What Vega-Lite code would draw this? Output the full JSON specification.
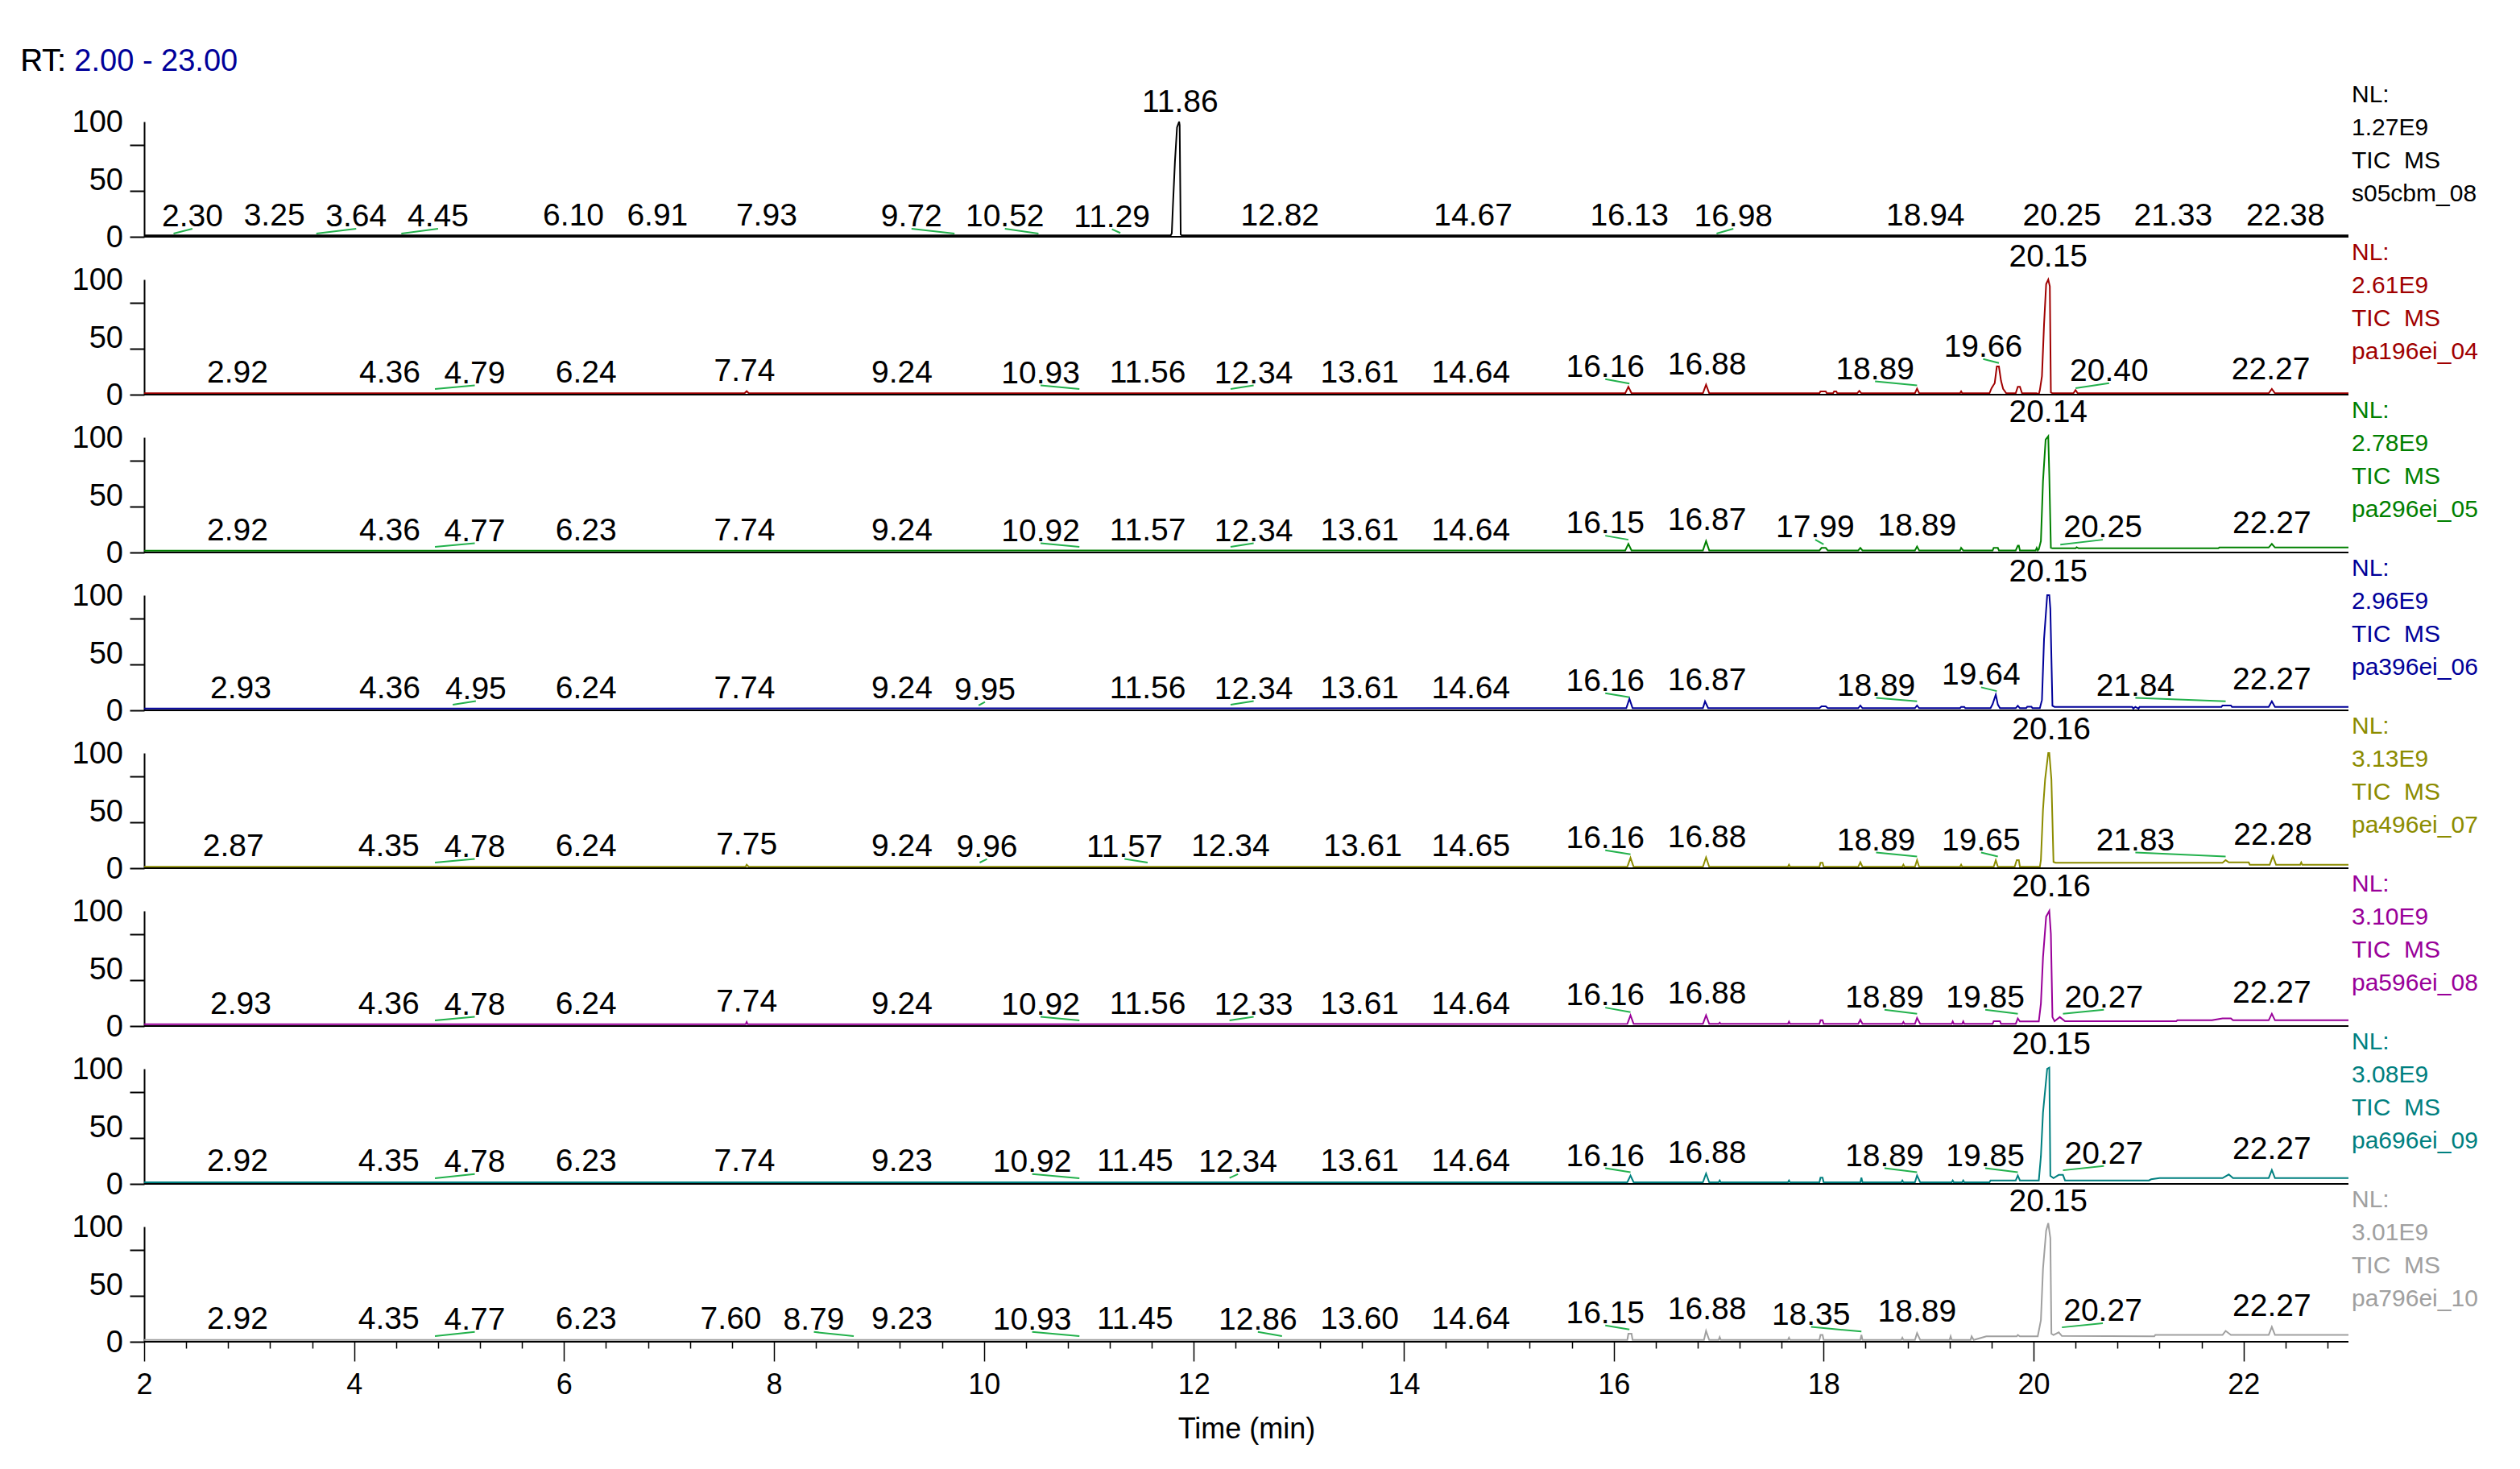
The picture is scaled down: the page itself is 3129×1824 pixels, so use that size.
{
"$schema": "https://vega.github.io/schema/vega-lite/v6.json",
"background": "white",
"padding": {"left": 25, "top": 58, "right": 10, "bottom": 10},
"title": {"text": "RT: 2.00 - 23.00", "subtitle": "RT:", "anchor": "start", "frame": "group", "dx": -153.5, "fontSize": 38, "subtitleFontSize": 38, "font": "Liberation Sans", "subtitleFont": "Liberation Sans", "fontWeight": "normal", "subtitleFontWeight": "normal", "color": "#000099", "subtitleColor": "#000000", "subtitlePadding": -38, "offset": 7},
"data": {"values": [
{"p":1,"k":"yl","yv":[0,50,100]},
{"p":2,"k":"yl","yv":[0,50,100]},
{"p":3,"k":"yl","yv":[0,50,100]},
{"p":4,"k":"yl","yv":[0,50,100]},
{"p":5,"k":"yl","yv":[0,50,100]},
{"p":6,"k":"yl","yv":[0,50,100]},
{"p":7,"k":"yl","yv":[0,50,100]},
{"p":8,"k":"yl","yv":[0,50,100]},
{"p":1,"k":"nl","lines":["NL:","1.27E9","TIC\u00a0\u00a0MS","s05cbm_08"]},
{"p":2,"k":"nl","lines":["NL:","2.61E9","TIC\u00a0\u00a0MS","pa196ei_04"]},
{"p":3,"k":"nl","lines":["NL:","2.78E9","TIC\u00a0\u00a0MS","pa296ei_05"]},
{"p":4,"k":"nl","lines":["NL:","2.96E9","TIC\u00a0\u00a0MS","pa396ei_06"]},
{"p":5,"k":"nl","lines":["NL:","3.13E9","TIC\u00a0\u00a0MS","pa496ei_07"]},
{"p":6,"k":"nl","lines":["NL:","3.10E9","TIC\u00a0\u00a0MS","pa596ei_08"]},
{"p":7,"k":"nl","lines":["NL:","3.08E9","TIC\u00a0\u00a0MS","pa696ei_09"]},
{"p":8,"k":"nl","lines":["NL:","3.01E9","TIC\u00a0\u00a0MS","pa796ei_10"]},
{"p":1,"k":"tr","t":[2,11.78,11.79,11.8,11.82,11.84,11.86,11.865,11.875,11.885,23],"v":[1.2,1.2,3,25,65,95,100,97,2,1.2,1.2]},
{"p":2,"k":"tr","t":[2,7.72,7.74,7.76,16.11,16.14,16.17,16.85,16.88,16.91,17.96,17.97,18.02,18.03,18.09,18.1,18.12,18.13,18.32,18.34,18.36,18.87,18.89,18.91,19.3,19.31,19.32,19.58,19.6,19.63,19.65,19.67,19.69,19.71,19.74,19.83,19.85,19.87,19.89,20.03,20.05,20.06,20.08,20.1,20.12,20.14,20.155,20.165,20.18,20.38,20.4,20.42,22.24,22.27,22.3,23],"v":[1.2,1.2,3,1.2,1.2,6.8,1.2,1.2,8.7,1.2,1.2,2.8,2.8,1.2,1.2,2.8,2.8,1.2,1.2,3.3,1.2,1.2,5.2,1.2,1.2,2.8,1.2,1.2,5.6,10,24.4,24.4,12,5,1.2,1.2,6.8,6.8,1.2,1.2,0.3,4,16,61,96,100,94,2,1.2,1.2,4,1.2,1.2,5,1.2,1.2]},
{"p":3,"k":"tr","t":[2,16.11,16.14,16.17,16.85,16.88,16.91,17.96,17.98,18.02,18.04,18.33,18.35,18.37,18.87,18.89,18.91,19.3,19.31,19.33,19.61,19.62,19.66,19.67,19.83,19.85,19.86,19.87,20.02,20.03,20.04,20.05,20.07,20.09,20.115,20.14,20.15,20.165,20.18,20.4,20.41,20.43,21.76,21.77,22.24,22.27,22.3,23],"v":[1.5,1.8,7.5,1.8,1.8,9.9,1.8,1.8,4,4,1.8,1.8,4,1.8,1.8,5.2,1.8,1.8,4,1.8,1.8,4,4,1.8,1.8,5.9,5.9,1.8,1.8,4,1.8,2.8,9.9,62,98,101,67,4,3.6,3.6,4.5,3.6,3.6,4.3,4.3,7.5,4.3,4.3]},
{"p":4,"k":"tr","t":[2,16.12,16.15,16.18,16.85,16.87,16.9,17.96,17.98,18.02,18.04,18.33,18.35,18.37,18.87,18.89,18.91,19.3,19.31,19.34,19.35,19.59,19.61,19.64,19.66,19.68,19.83,19.85,19.87,19.93,19.94,19.98,19.99,20.06,20.08,20.1,20.13,20.15,20.16,20.18,20.2,20.94,20.95,20.97,21,21.01,21.79,21.8,21.88,21.89,22.24,22.27,22.3,23],"v":[1.5,1.9,10,1.9,1.9,7.8,1.9,1.9,3.5,3.5,1.9,1.9,4.2,1.9,1.9,4.2,1.9,1.9,3,3,1.9,1.9,5.4,13.6,5,1.9,1.9,4,1.9,1.9,3.2,3.2,1.9,1.9,9,62,100,100,88,4,3,3,1.5,3,1.5,3,3,4.2,4.2,3,3,7.8,3,3]},
{"p":5,"k":"tr","t":[2,7.73,7.74,7.76,16.13,16.16,16.19,16.85,16.88,16.91,17.66,17.67,17.68,17.96,17.97,17.99,18,18.33,18.35,18.37,18.75,18.76,18.77,18.87,18.89,18.91,19.3,19.31,19.32,19.62,19.64,19.66,19.82,19.84,19.86,19.87,20.06,20.07,20.09,20.11,20.14,20.15,20.17,20.19,20.21,21.8,21.83,21.86,22.05,22.06,22.25,22.28,22.31,22.54,22.55,22.56,23],"v":[1.2,1.2,3,1.2,1.2,9,1.2,1.2,9.4,1.2,1.2,3,1.2,1.2,4.7,4.7,1.2,1.2,5.2,1.2,1.2,3,1.2,1.2,7,1.2,1.2,3,1.2,1.2,7,1.2,1.2,7,7,1.2,1.2,7,51,77,100,100,77,5.4,4.7,4.7,7,5,5,3,3,10.6,3,3,5,3,3]},
{"p":6,"k":"tr","t":[2,7.73,7.74,7.75,16.13,16.16,16.19,16.85,16.88,16.91,17,17.01,17.02,17.66,17.67,17.68,17.96,17.97,17.99,18,18.33,18.35,18.37,18.75,18.76,18.77,18.87,18.89,18.92,19.22,19.23,19.24,19.32,19.33,19.34,19.61,19.62,19.68,19.69,19.83,19.85,19.87,20.05,20.07,20.09,20.12,20.15,20.165,20.18,20.2,20.25,20.3,21.36,21.37,21.7,21.8,21.88,21.9,22.24,22.27,22.3,23],"v":[1.5,1.5,3.5,1.5,1.9,9.4,1.9,1.9,9.4,1.9,1.9,3,1.9,1.9,3.8,1.9,1.9,5,5,1.9,1.9,5.4,1.9,1.9,3.5,1.9,1.9,7,1.9,1.9,4,1.9,1.9,4,1.9,1.9,4.2,4.2,1.9,1.9,6.6,4,4,19.5,59.5,95,100,80,7.8,4.2,7.8,4.2,4.2,5,5,6.6,6.6,5,5,10.6,5,5]},
{"p":7,"k":"tr","t":[2,16.13,16.16,16.19,16.85,16.88,16.91,17,17.01,17.02,17.66,17.67,17.68,17.96,17.97,17.99,18,18.35,18.36,18.37,18.74,18.75,18.76,18.87,18.89,18.92,19.22,19.23,19.24,19.32,19.33,19.34,19.58,19.59,19.83,19.85,19.87,20.05,20.07,20.09,20.13,20.15,20.16,20.19,20.24,20.28,20.3,21.1,21.12,21.2,21.8,21.86,21.9,22.24,22.27,22.3,23],"v":[1.4,1.4,7.3,1.4,1.4,8.9,1.4,1.4,3,1.4,1.4,3,1.4,1.4,5.4,5.4,1.4,1.4,5.4,1.4,1.4,3,1.4,1.4,7.3,1.4,1.4,3,1.4,1.4,3,1.4,1.4,3,3,7.3,3,3,24,62,100,101,7,5,7.8,7.8,3,3,4,5,5,8.2,5,5,12,5,5]},
{"p":8,"k":"tr","t":[2,16.13,16.14,16.17,16.18,16.86,16.88,16.91,17,17.01,17.02,17.66,17.67,17.68,17.96,17.97,17.99,18,18.35,18.36,18.37,18.74,18.75,18.76,18.87,18.89,18.92,19.2,19.21,19.22,19.4,19.41,19.43,19.55,19.84,19.85,19.87,20.04,20.07,20.09,20.12,20.14,20.16,20.17,20.19,20.24,20.27,21.15,21.16,21.8,21.83,21.88,22.24,22.27,22.3,23],"v":[1.6,1.6,7,7,1.6,1.6,9.4,1.6,1.6,4,1.6,1.6,3.5,1.6,1.6,5.9,5.9,1.6,1.6,5.9,1.6,1.6,3.5,1.6,1.6,7.5,1.6,1.6,4.7,1.6,1.6,4.7,1.6,4.7,4.7,5.9,4.7,4.7,18.8,63.5,96.5,103,90,7,5.9,8.2,5,4.7,5.9,5.9,9.4,5.9,5.9,12.9,5.9,5.9]},
{"p":1,"k":"pk","label":"2.30","rt":2.28,"lx":2.46,"la":7,"lb":2.8},
{"p":1,"k":"pk","label":"3.25","lx":3.24,"la":7.5},
{"p":1,"k":"pk","label":"3.64","rt":3.64,"lx":4.02,"la":7,"lb":2.8},
{"p":1,"k":"pk","label":"4.45","rt":4.45,"lx":4.8,"la":7,"lb":2.8},
{"p":1,"k":"pk","label":"6.10","lx":6.09,"la":7.5},
{"p":1,"k":"pk","label":"6.91","lx":6.89,"la":7.5},
{"p":1,"k":"pk","label":"7.93","lx":7.93,"la":7.5},
{"p":1,"k":"pk","label":"9.72","rt":9.72,"lx":9.31,"la":7,"lb":2.8},
{"p":1,"k":"pk","label":"10.52","rt":10.52,"lx":10.2,"la":7,"lb":2.8},
{"p":1,"k":"pk","label":"11.29","rt":11.3,"lx":11.22,"la":6.5,"lb":3.3},
{"p":1,"k":"pk","label":"11.86","lx":11.87,"la":106},
{"p":1,"k":"pk","label":"12.82","lx":12.82,"la":7.5},
{"p":1,"k":"pk","label":"14.67","lx":14.66,"la":7.5},
{"p":1,"k":"pk","label":"16.13","lx":16.15,"la":7.5},
{"p":1,"k":"pk","label":"16.98","rt":16.98,"lx":17.14,"la":7,"lb":2.8},
{"p":1,"k":"pk","label":"18.94","lx":18.97,"la":7.5},
{"p":1,"k":"pk","label":"20.25","lx":20.27,"la":7.5},
{"p":1,"k":"pk","label":"21.33","lx":21.33,"la":7.5},
{"p":1,"k":"pk","label":"22.38","lx":22.4,"la":7.5},
{"p":2,"k":"pk","label":"2.92","lx":2.89,"la":8.2},
{"p":2,"k":"pk","label":"4.36","lx":4.34,"la":8.2},
{"p":2,"k":"pk","label":"4.79","rt":4.77,"lx":5.15,"la":8,"lb":4.9},
{"p":2,"k":"pk","label":"6.24","lx":6.21,"la":8.2},
{"p":2,"k":"pk","label":"7.74","lx":7.72,"la":10},
{"p":2,"k":"pk","label":"9.24","lx":9.22,"la":8.2},
{"p":2,"k":"pk","label":"10.93","rt":10.91,"lx":10.54,"la":8,"lb":4.9},
{"p":2,"k":"pk","label":"11.56","lx":11.56,"la":8.2},
{"p":2,"k":"pk","label":"12.34","rt":12.35,"lx":12.57,"la":8,"lb":4.9},
{"p":2,"k":"pk","label":"13.61","lx":13.58,"la":8.2},
{"p":2,"k":"pk","label":"14.64","lx":14.64,"la":8.2},
{"p":2,"k":"pk","label":"16.16","rt":16.15,"lx":15.92,"la":13.4,"lb":9.6},
{"p":2,"k":"pk","label":"16.88","lx":16.89,"la":15.7},
{"p":2,"k":"pk","label":"18.89","rt":18.89,"lx":18.49,"la":11.5,"lb":8},
{"p":2,"k":"pk","label":"19.66","rt":19.67,"lx":19.52,"la":31,"lb":27.5},
{"p":2,"k":"pk","label":"20.15","lx":20.14,"la":109},
{"p":2,"k":"pk","label":"20.40","rt":20.4,"lx":20.72,"la":9.9,"lb":5.6},
{"p":2,"k":"pk","label":"22.27","lx":22.26,"la":11},
{"p":3,"k":"pk","label":"2.92","lx":2.89,"la":8.2},
{"p":3,"k":"pk","label":"4.36","lx":4.34,"la":8.2},
{"p":3,"k":"pk","label":"4.77","rt":4.77,"lx":5.15,"la":8,"lb":4.9},
{"p":3,"k":"pk","label":"6.23","lx":6.21,"la":8.2},
{"p":3,"k":"pk","label":"7.74","lx":7.72,"la":8.2},
{"p":3,"k":"pk","label":"9.24","lx":9.22,"la":8.2},
{"p":3,"k":"pk","label":"10.92","rt":10.91,"lx":10.54,"la":8,"lb":4.9},
{"p":3,"k":"pk","label":"11.57","lx":11.56,"la":8.2},
{"p":3,"k":"pk","label":"12.34","rt":12.35,"lx":12.57,"la":8,"lb":4.9},
{"p":3,"k":"pk","label":"13.61","lx":13.58,"la":8.2},
{"p":3,"k":"pk","label":"14.64","lx":14.64,"la":8.2},
{"p":3,"k":"pk","label":"16.15","rt":16.14,"lx":15.92,"la":14.6,"lb":11.1},
{"p":3,"k":"pk","label":"16.87","lx":16.89,"la":17.2},
{"p":3,"k":"pk","label":"17.99","rt":18.0,"lx":17.92,"la":11.1,"lb":7.1},
{"p":3,"k":"pk","label":"18.89","lx":18.89,"la":12.9},
{"p":3,"k":"pk","label":"20.14","lx":20.14,"la":111},
{"p":3,"k":"pk","label":"20.25","rt":20.255,"lx":20.66,"la":11.1,"lb":6.8},
{"p":3,"k":"pk","label":"22.27","lx":22.27,"la":14.9},
{"p":4,"k":"pk","label":"2.93","lx":2.92,"la":8.2},
{"p":4,"k":"pk","label":"4.36","lx":4.34,"la":8.2},
{"p":4,"k":"pk","label":"4.95","rt":4.94,"lx":5.16,"la":8,"lb":4.9},
{"p":4,"k":"pk","label":"6.24","lx":6.21,"la":8.2},
{"p":4,"k":"pk","label":"7.74","lx":7.72,"la":8.2},
{"p":4,"k":"pk","label":"9.24","lx":9.22,"la":8.2},
{"p":4,"k":"pk","label":"9.95","rt":9.95,"lx":10.01,"la":7.3,"lb":4.2},
{"p":4,"k":"pk","label":"11.56","lx":11.56,"la":8.2},
{"p":4,"k":"pk","label":"12.34","rt":12.35,"lx":12.57,"la":8,"lb":4.9},
{"p":4,"k":"pk","label":"13.61","lx":13.58,"la":8.2},
{"p":4,"k":"pk","label":"14.64","lx":14.64,"la":8.2},
{"p":4,"k":"pk","label":"16.16","rt":16.15,"lx":15.92,"la":14.8,"lb":11.3},
{"p":4,"k":"pk","label":"16.87","lx":16.89,"la":15.5},
{"p":4,"k":"pk","label":"18.89","rt":18.89,"lx":18.5,"la":10.8,"lb":7.8},
{"p":4,"k":"pk","label":"19.64","rt":19.65,"lx":19.5,"la":20,"lb":16.7},
{"p":4,"k":"pk","label":"20.15","lx":20.14,"la":110},
{"p":4,"k":"pk","label":"21.84","rt":21.83,"lx":20.97,"la":10.8,"lb":7.8},
{"p":4,"k":"pk","label":"22.27","lx":22.27,"la":15.8},
{"p":5,"k":"pk","label":"2.87","lx":2.85,"la":8.2},
{"p":5,"k":"pk","label":"4.35","lx":4.33,"la":8.2},
{"p":5,"k":"pk","label":"4.78","rt":4.77,"lx":5.15,"la":8,"lb":4.9},
{"p":5,"k":"pk","label":"6.24","lx":6.21,"la":8.2},
{"p":5,"k":"pk","label":"7.75","lx":7.74,"la":10},
{"p":5,"k":"pk","label":"9.24","lx":9.22,"la":8.2},
{"p":5,"k":"pk","label":"9.96","rt":9.96,"lx":10.03,"la":8,"lb":4.9},
{"p":5,"k":"pk","label":"11.57","rt":11.56,"lx":11.34,"la":8,"lb":4.9},
{"p":5,"k":"pk","label":"12.34","lx":12.35,"la":8.2},
{"p":5,"k":"pk","label":"13.61","lx":13.61,"la":8.2},
{"p":5,"k":"pk","label":"14.65","lx":14.64,"la":8.2},
{"p":5,"k":"pk","label":"16.16","rt":16.16,"lx":15.92,"la":15.5,"lb":12},
{"p":5,"k":"pk","label":"16.88","lx":16.89,"la":16.3},
{"p":5,"k":"pk","label":"18.89","rt":18.89,"lx":18.5,"la":13.6,"lb":10.1},
{"p":5,"k":"pk","label":"19.65","rt":19.66,"lx":19.5,"la":13.6,"lb":10.1},
{"p":5,"k":"pk","label":"20.16","lx":20.17,"la":110},
{"p":5,"k":"pk","label":"21.83","rt":21.83,"lx":20.97,"la":13.6,"lb":10.1},
{"p":5,"k":"pk","label":"22.28","lx":22.28,"la":17.9},
{"p":6,"k":"pk","label":"2.93","lx":2.92,"la":8.2},
{"p":6,"k":"pk","label":"4.36","lx":4.33,"la":8.2},
{"p":6,"k":"pk","label":"4.78","rt":4.77,"lx":5.15,"la":8,"lb":4.9},
{"p":6,"k":"pk","label":"6.24","lx":6.21,"la":8.2},
{"p":6,"k":"pk","label":"7.74","lx":7.74,"la":10.5},
{"p":6,"k":"pk","label":"9.24","lx":9.22,"la":8.2},
{"p":6,"k":"pk","label":"10.92","rt":10.91,"lx":10.54,"la":8,"lb":4.9},
{"p":6,"k":"pk","label":"11.56","lx":11.56,"la":8.2},
{"p":6,"k":"pk","label":"12.33","rt":12.34,"lx":12.57,"la":8,"lb":4.9},
{"p":6,"k":"pk","label":"13.61","lx":13.58,"la":8.2},
{"p":6,"k":"pk","label":"14.64","lx":14.64,"la":8.2},
{"p":6,"k":"pk","label":"16.16","rt":16.16,"lx":15.92,"la":16,"lb":12},
{"p":6,"k":"pk","label":"16.88","lx":16.89,"la":17.4},
{"p":6,"k":"pk","label":"18.89","rt":18.89,"lx":18.58,"la":14.1,"lb":10.6},
{"p":6,"k":"pk","label":"19.85","rt":19.85,"lx":19.54,"la":14.1,"lb":10.6},
{"p":6,"k":"pk","label":"20.16","lx":20.17,"la":110.4},
{"p":6,"k":"pk","label":"20.27","rt":20.28,"lx":20.67,"la":14.1,"lb":10.6},
{"p":6,"k":"pk","label":"22.27","lx":22.27,"la":18.1},
{"p":7,"k":"pk","label":"2.92","lx":2.89,"la":9},
{"p":7,"k":"pk","label":"4.35","lx":4.33,"la":9},
{"p":7,"k":"pk","label":"4.78","rt":4.77,"lx":5.15,"la":8.5,"lb":4.9},
{"p":7,"k":"pk","label":"6.23","lx":6.21,"la":9},
{"p":7,"k":"pk","label":"7.74","lx":7.72,"la":9},
{"p":7,"k":"pk","label":"9.23","lx":9.22,"la":9},
{"p":7,"k":"pk","label":"10.92","rt":10.91,"lx":10.46,"la":8.5,"lb":4.9},
{"p":7,"k":"pk","label":"11.45","lx":11.44,"la":9},
{"p":7,"k":"pk","label":"12.34","rt":12.34,"lx":12.42,"la":8.5,"lb":5.2},
{"p":7,"k":"pk","label":"13.61","lx":13.58,"la":9},
{"p":7,"k":"pk","label":"14.64","lx":14.64,"la":9},
{"p":7,"k":"pk","label":"16.16","rt":16.16,"lx":15.92,"la":13.6,"lb":10.1},
{"p":7,"k":"pk","label":"16.88","lx":16.89,"la":16.3},
{"p":7,"k":"pk","label":"18.89","rt":18.89,"lx":18.58,"la":13.6,"lb":10.1},
{"p":7,"k":"pk","label":"19.85","rt":19.85,"lx":19.54,"la":13.6,"lb":10.1},
{"p":7,"k":"pk","label":"20.15","lx":20.17,"la":110.4},
{"p":7,"k":"pk","label":"20.27","rt":20.28,"lx":20.67,"la":15.5,"lb":11.8},
{"p":7,"k":"pk","label":"22.27","lx":22.27,"la":19.8},
{"p":8,"k":"pk","label":"2.92","lx":2.89,"la":9.2},
{"p":8,"k":"pk","label":"4.35","lx":4.33,"la":9.2},
{"p":8,"k":"pk","label":"4.77","rt":4.77,"lx":5.15,"la":8.5,"lb":4.9},
{"p":8,"k":"pk","label":"6.23","lx":6.21,"la":9.2},
{"p":8,"k":"pk","label":"7.60","lx":7.59,"la":9.2},
{"p":8,"k":"pk","label":"8.79","rt":8.76,"lx":8.38,"la":8.5,"lb":4.9},
{"p":8,"k":"pk","label":"9.23","lx":9.22,"la":9.2},
{"p":8,"k":"pk","label":"10.93","rt":10.91,"lx":10.46,"la":8.5,"lb":4.9},
{"p":8,"k":"pk","label":"11.45","lx":11.44,"la":9.2},
{"p":8,"k":"pk","label":"12.86","rt":12.84,"lx":12.61,"la":8.5,"lb":4.9},
{"p":8,"k":"pk","label":"13.60","lx":13.58,"la":9.2},
{"p":8,"k":"pk","label":"14.64","lx":14.64,"la":9.2},
{"p":8,"k":"pk","label":"16.15","rt":16.15,"lx":15.92,"la":14.1,"lb":10.6},
{"p":8,"k":"pk","label":"16.88","lx":16.89,"la":17.2},
{"p":8,"k":"pk","label":"18.35","rt":18.36,"lx":17.88,"la":12.9,"lb":8.9},
{"p":8,"k":"pk","label":"18.89","lx":18.89,"la":15.5},
{"p":8,"k":"pk","label":"20.15","lx":20.14,"la":110.9},
{"p":8,"k":"pk","label":"20.27","rt":20.27,"lx":20.66,"la":16,"lb":12.5},
{"p":8,"k":"pk","label":"22.27","lx":22.27,"la":20.3}
]},
"facet": {"row": {"field": "p", "type": "ordinal", "header": null}},
"spacing": {"row": 53},
"bounds": "flush",
"spec": {
"width": 2737,
"height": 143,
"layer": [
{"transform": [{"filter": "datum.k == 'tr'"}, {"flatten": ["t", "v"]}],
 "mark": {"type": "line", "strokeWidth": 2},
 "encoding": {
  "x": {"field": "t", "type": "quantitative", "scale": {"domain": [2, 23], "nice": false, "zero": false},
   "axis": {"values": [2,2.1,2.2,2.3,2.4,2.5,2.6,2.7,2.8,2.9,3,3.1,3.2,3.3,3.4,3.5,3.6,3.7,3.8,3.9,4,4.1,4.2,4.3,4.4,4.5,4.6,4.7,4.8,4.9,5,5.1,5.2,5.3,5.4,5.5,5.6,5.7,5.8,5.9,6,6.1,6.2,6.3,6.4,6.5,6.6,6.7,6.8,6.9,7,7.1,7.2,7.3,7.4,7.5,7.6,7.7,7.8,7.9,8,8.1,8.2,8.3,8.4,8.5,8.6,8.7,8.8,8.9,9,9.1,9.2,9.3,9.4,9.5,9.6,9.7,9.8,9.9,10,10.1,10.2,10.3,10.4,10.5,10.6,10.7,10.8,10.9,11,11.1,11.2,11.3,11.4,11.5,11.6,11.7,11.8,11.9,12,12.1,12.2,12.3,12.4,12.5,12.6,12.7,12.8,12.9,13,13.1,13.2,13.3,13.4,13.5,13.6,13.7,13.8,13.9,14,14.1,14.2,14.3,14.4,14.5,14.6,14.7,14.8,14.9,15,15.1,15.2,15.3,15.4,15.5,15.6,15.7,15.8,15.9,16,16.1,16.2,16.3,16.4,16.5,16.6,16.7,16.8,16.9,17,17.1,17.2,17.3,17.4,17.5,17.6,17.7,17.8,17.9,18,18.1,18.2,18.3,18.4,18.5,18.6,18.7,18.8,18.9,19,19.1,19.2,19.3,19.4,19.5,19.6,19.7,19.8,19.9,20,20.1,20.2,20.3,20.4,20.5,20.6,20.7,20.8,20.9,21,21.1,21.2,21.3,21.4,21.5,21.6,21.7,21.8,21.9,22,22.1,22.2,22.3,22.4,22.5,22.6,22.7,22.8,22.9,23],
    "domain": false, "grid": false, "tickColor": "black", "tickWidth": 1.5,
    "tickSize": {"condition": [{"test": "abs(datum.value/2 - round(datum.value/2)) < 0.001", "value": 24}, {"test": "abs(datum.value*2 - round(datum.value*2)) < 0.001", "value": 17}], "value": 8},
    "labelExpr": "abs(datum.value/2 - round(datum.value/2)) < 0.001 ? format(datum.value, 'd') : ''",
    "labelFont": "Liberation Sans", "labelFontSize": 36, "labelColor": "black", "labelPadding": 12,
    "labelOverlap": false, "labelFlush": false, "labelBound": false,
    "title": "Time (min)", "titleFont": "Liberation Sans", "titleFontSize": 36, "titleFontWeight": "normal", "titleColor": "black", "titlePadding": 20}},
  "y": {"field": "v", "type": "quantitative", "scale": {"domain": [0, 100], "nice": false, "zero": false},
   "axis": {"values": [0,10,20,30,40,50,60,70,80,90,100], "labels": false,
    "title": null, "grid": false, "tickSize": 18, "tickWidth": 2, "tickColor": "black", "domainWidth": 2, "domainColor": "black"}},
  "color": {"field": "p", "type": "nominal", "scale": {"domain": [1,2,3,4,5,6,7,8], "range": ["#000000","#a00000","#008000","#000099","#8c8c00","#990099","#008080","#a0a0a0"]}, "legend": null}
 }},
{"transform": [{"filter": "datum.k == 'nl'"}],
 "mark": {"type": "rule", "color": "black", "strokeWidth": 2},
 "encoding": {"y": {"datum": 0}}},
{"transform": [{"filter": "datum.k == 'yl'"}, {"flatten": ["yv"]}],
 "mark": {"type": "text", "font": "Liberation Sans", "fontSize": 38, "align": "right", "baseline": "middle", "dx": -26, "dy": 2, "color": "black"},
 "encoding": {"x": {"datum": 2}, "y": {"field": "yv", "type": "quantitative", "title": null}, "text": {"field": "yv", "type": "nominal"}}},
{"transform": [{"filter": "datum.k == 'pk' && isValid(datum.rt)"}],
 "mark": {"type": "rule", "color": "#22b14c", "strokeWidth": 2},
 "encoding": {"x": {"field": "lx", "type": "quantitative", "title": "Time (min)"}, "x2": {"field": "rt"}, "y": {"field": "la", "type": "quantitative", "title": null}, "y2": {"field": "lb"}}},
{"transform": [{"filter": "datum.k == 'pk'"}],
 "mark": {"type": "text", "font": "Liberation Sans", "fontSize": 39, "dy": -3, "baseline": "alphabetic", "align": "center", "color": "black"},
 "encoding": {"x": {"field": "lx", "type": "quantitative", "title": "Time (min)"}, "y": {"field": "la", "type": "quantitative", "title": null}, "text": {"field": "label"}}},
{"transform": [{"filter": "datum.k == 'nl'"}],
 "mark": {"type": "text", "font": "Liberation Sans", "fontSize": 30, "align": "left", "baseline": "alphabetic", "dx": 4, "dy": -24, "lineHeight": 41},
 "encoding": {"x": {"datum": 23}, "y": {"datum": 100}, "text": {"field": "lines"}, "color": {"field": "p", "type": "nominal", "legend": null}}}
]
},
"config": {"view": {"stroke": null}, "font": "Liberation Sans", "axis": {"labelOverlap": false}}
}
